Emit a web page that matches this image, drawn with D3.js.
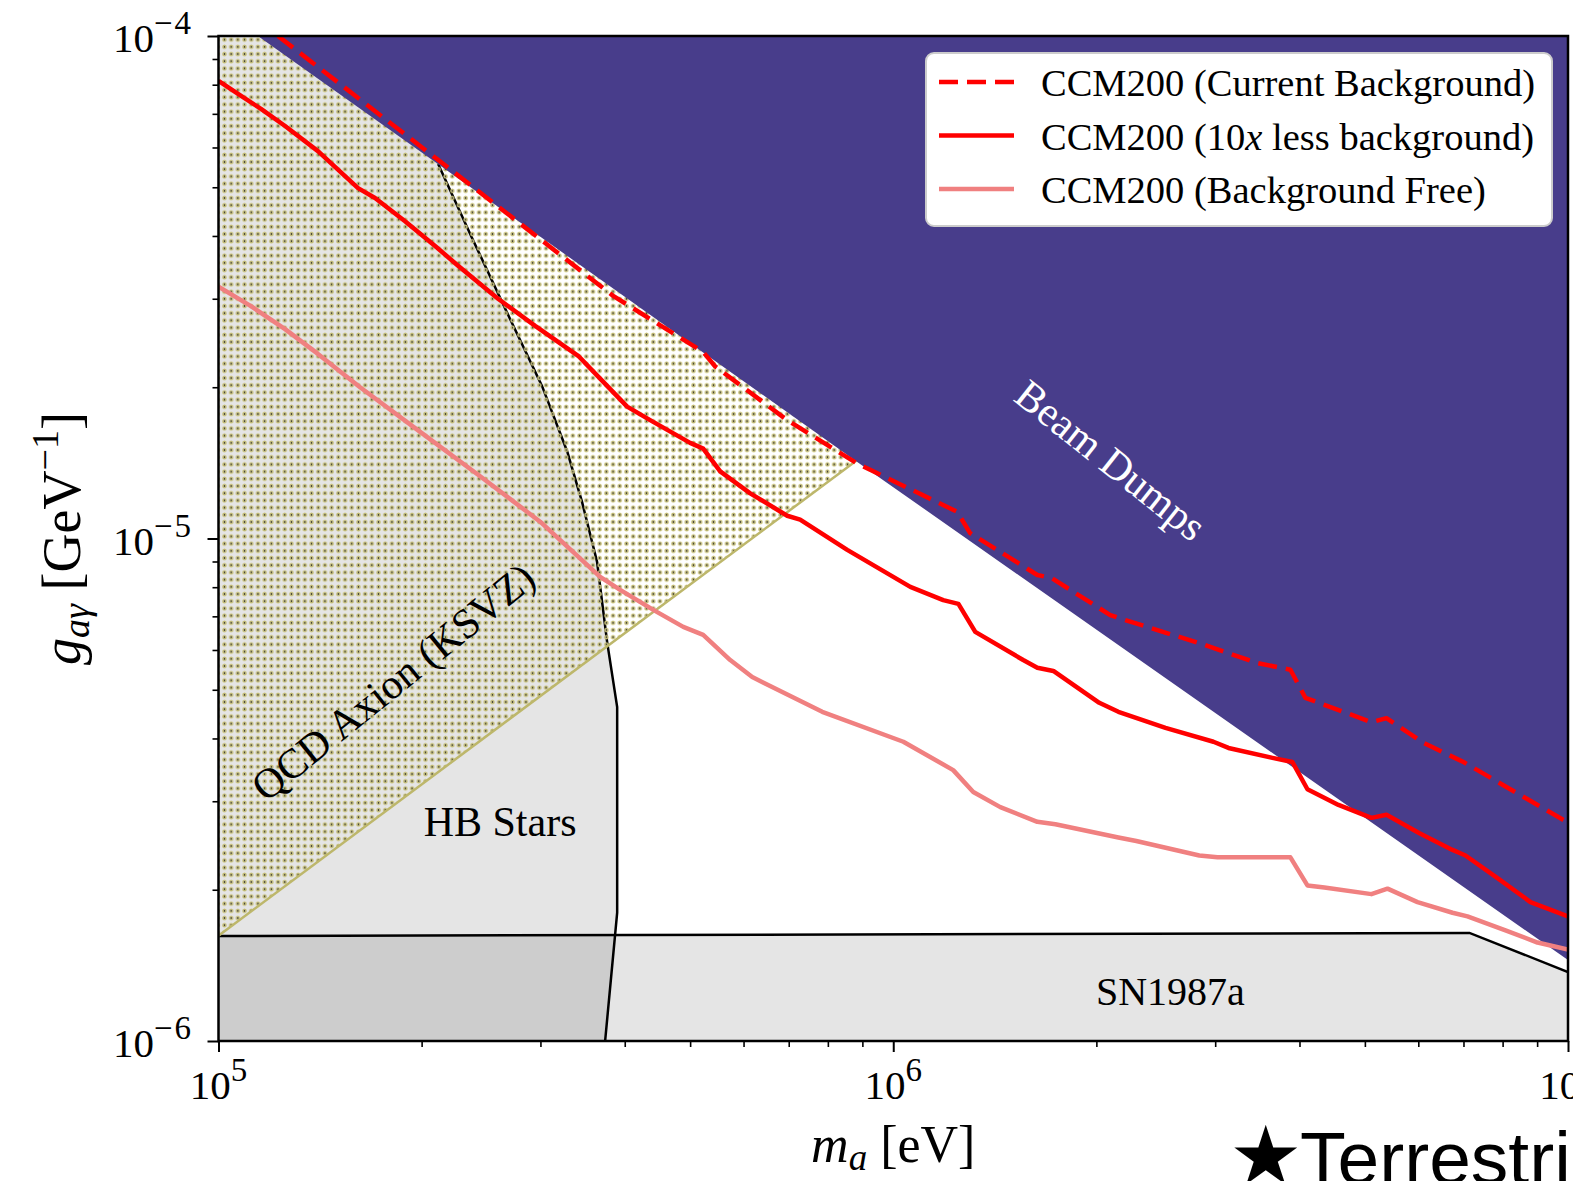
<!DOCTYPE html>
<html>
<head>
<meta charset="utf-8">
<script src="https://cdn.jsdelivr.net/npm/d3@7"></script>
<style>
body{margin:0;background:#fff;overflow:hidden}
svg{display:block}
</style>
</head>
<body>
<div id="chart"></div>
<script>
// ---- data: [m_a (eV), g_ag (GeV^-1)] ----
const currentBkg = [[1.225e5,1.0e-4],[2.115e5,5.67e-5],[3.845e5,3.04e-5],[5.228e5,2.35e-5],[5.447e5,2.20e-5],
  [6.964e5,1.72e-5],[8.844e5,1.41e-5],[1.244e6,1.13e-5],[1.300e6,1.025e-5],[1.635e6,8.46e-6],[1.715e6,8.35e-6],
  [2.097e6,7.04e-6],[2.208e6,6.88e-6],[2.842e6,6.19e-6],[3.465e6,5.65e-6],[3.878e6,5.48e-6],[4.081e6,4.82e-6],
  [5.113e6,4.31e-6],[5.382e6,4.39e-6],[6.108e6,3.92e-6],[7.000e6,3.59e-6],[1.0e7,2.72e-6]]
const lessBkg = [[1.0e5,8.14e-5],[1.069e5,7.67e-5],[1.156e5,7.16e-5],[1.255e5,6.62e-5],[1.404e5,5.90e-5],
  [1.610e5,4.98e-5],[1.706e5,4.76e-5],[1.890e5,4.28e-5],[2.094e5,3.82e-5],[2.265e5,3.49e-5],[2.596e5,3.00e-5],
  [2.946e5,2.65e-5],[3.412e5,2.31e-5],[3.678e5,2.08e-5],[4.033e5,1.83e-5],[4.362e5,1.72e-5],[5.0e5,1.55e-5],
  [5.228e5,1.51e-5],[5.540e5,1.36e-5],[6.138e5,1.23e-5],[6.964e5,1.11e-5],[7.278e5,1.09e-5],[8.547e5,9.49e-6],
  [1.060e6,8.01e-6],[1.186e6,7.54e-6],[1.249e6,7.41e-6],[1.323e6,6.52e-6],[1.558e6,5.73e-6],[1.635e6,5.53e-6],
  [1.727e6,5.45e-6],[2.020e6,4.71e-6],[2.156e6,4.52e-6],[2.532e6,4.20e-6],[2.982e6,3.94e-6],[3.139e6,3.83e-6],
  [3.647e6,3.66e-6],[3.905e6,3.59e-6],[4.110e6,3.17e-6],[4.569e6,2.95e-6],[5.113e6,2.78e-6],[5.382e6,2.82e-6],
  [6.024e6,2.59e-6],[6.743e6,2.40e-6],[7.048e6,2.34e-6],[7.862e6,2.11e-6],[8.798e6,1.89e-6],[1.0e7,1.77e-6]]
const bkgFree = [[1.0e5,3.17e-5],[1.117e5,2.90e-5],[1.255e5,2.61e-5],[1.404e5,2.33e-5],[1.621e5,2.00e-5],
  [1.990e5,1.63e-5],[2.442e5,1.33e-5],[2.997e5,1.08e-5],[3.678e5,8.39e-6],[3.938e5,7.90e-6],[4.409e5,7.21e-6],
  [4.884e5,6.67e-6],[5.228e5,6.43e-6],[5.733e5,5.73e-6],[6.180e5,5.30e-6],[7.848e5,4.52e-6],[1.035e6,3.94e-6],
  [1.227e6,3.46e-6],[1.314e6,3.13e-6],[1.441e6,2.92e-6],[1.635e6,2.73e-6],[1.739e6,2.70e-6],[2.156e6,2.54e-6],
  [2.292e6,2.50e-6],[2.842e6,2.34e-6],[3.023e6,2.32e-6],[3.878e6,2.32e-6],[4.110e6,2.04e-6],[4.355e6,2.02e-6],
  [5.113e6,1.96e-6],[5.401e6,2.01e-6],[5.984e6,1.89e-6],[6.743e6,1.80e-6],[7.096e6,1.77e-6],[8.079e6,1.66e-6],
  [9.012e6,1.57e-6],[1.0e7,1.52e-6]]
// limit regions
const beamDumpEdge = [[1.0e5,1.137e-4],[8.844e5,1.42e-5],[1.0e7,1.449e-6]]
const qcdLower = [[1.0e5,1.62e-6],[1.0e7,1.62e-4]]
const qcdUpper = [[1.0e5,1.62e-4],[1.0e7,1.62e-2]]
const hbEdge = [[2.116e5,5.56e-5],[2.368e5,4.00e-5],[2.669e5,2.84e-5],[3.017e5,2.01e-5],[3.287e5,1.49e-5],
  [3.459e5,1.18e-5],[3.640e5,8.98e-6],[3.767e5,6.22e-6],[3.898e5,4.62e-6],[3.898e5,1.80e-6],[3.741e5,1.0e-6]]
const snEdge = [[1.0e5,1.618e-6],[7.145e6,1.641e-6],[1.0e7,1.372e-6]]
// axes
const massTicks = [1e5,1e6,1e7]
const massExp = ["5","6","7"]
const coupTicks = [1e-6,1e-5,1e-4]
const coupExp = ["−6","−5","−4"]
const legendNames = ["CCM200 (Current Background)","CCM200 (10x less background)","CCM200 (Background Free)"]

const W = 1573, H = 1181
const pLeft = 218.5, pRight = 1568, pTop = 36, pBottom = 1041

let svg = d3.select("#chart").append("svg").attr("width",W).attr("height",H)
let x = d3.scaleLog().domain([1e5,1e7]).range([pLeft,pRight])
let y = d3.scaleLog().domain([1e-6,1e-4]).range([pBottom,pTop])
let line = d3.line().x(d=>x(d[0])).y(d=>y(d[1]))

let defs = svg.append("defs")
defs.append("clipPath").attr("id","plotclip").append("rect")
  .attr("x",pLeft).attr("y",pTop).attr("width",pRight-pLeft).attr("height",pBottom-pTop)
//點點的花紋
let pat = defs.append("pattern").attr("id","dots").attr("patternUnits","userSpaceOnUse")
  .attr("width",6.7).attr("height",7.2)
pat.append("circle").attr("cx",3.35).attr("cy",3.6).attr("r",2.25).attr("fill","#c4bd72")
pat.append("circle").attr("cx",3.35).attr("cy",3.6).attr("r",1.15).attr("fill","#b2ae8a")
pat.append("circle").attr("cx",3.35).attr("cy",3.6).attr("r",0.6).attr("fill","#000")

let plot = svg.append("g").attr("clip-path","url(#plotclip)")
const [x0,x1] = x.domain(), [y0,y1] = y.domain()

//HB Stars
let hbPoly = [[hbEdge[0][0],y1*3]].concat(hbEdge,[[hbEdge[hbEdge.length-1][0],y0/2],[x0/2,y0/2],[x0/2,y1*3]])
plot.append("path").attr("d",line(hbPoly)+"Z").attr("fill","black").attr("fill-opacity",0.1)
//SN1987a
let snPoly = [[x0/2,snEdge[0][1]]].concat(snEdge,[[x1*2,snEdge[snEdge.length-1][1]*0.6],[x1*2,y0/2],[x0/2,y0/2]])
plot.append("path").attr("d",line(snPoly)+"Z").attr("fill","black").attr("fill-opacity",0.1)
plot.append("path").attr("d",line(hbEdge)).attr("fill","none").attr("stroke","black").attr("stroke-width",2.5)
plot.append("path").attr("d",line(snEdge)).attr("fill","none").attr("stroke","black").attr("stroke-width",2.5)

//QCD axion band
let qcdPoly = qcdLower.concat(qcdUpper.slice().reverse())
plot.append("path").attr("d",line(qcdPoly)+"Z").attr("fill","url(#dots)")
plot.append("path").attr("d",line(qcdLower)).attr("fill","none").attr("stroke","#bdb76b").attr("stroke-width",2.5)

//Beam dumps
let bdPoly = beamDumpEdge.concat([[x1*2,beamDumpEdge[2][1]/2],[x1*2,y1*5],[x0/2,y1*5]])
plot.append("path").attr("d",line(bdPoly)+"Z").attr("fill","#483d8b")

//CCM200 curves
const styles = [
  {data:currentBkg, color:"red", dash:"19,9"},
  {data:lessBkg, color:"red", dash:null},
  {data:bkgFree, color:"#f08080", dash:null}
]
styles.forEach(s=>{
  plot.append("path").attr("d",line(s.data)).attr("fill","none")
    .attr("stroke",s.color).attr("stroke-width",4.5).attr("stroke-dasharray",s.dash)
    .attr("stroke-linejoin","round")
})

//region labels
const serif = "'Liberation Serif','Times New Roman',serif"
svg.append("text").attr("transform",`translate(${x(2.1e6)},${y(1.43e-5)}) rotate(38.5)`)
  .attr("text-anchor","middle").attr("dominant-baseline","central")
  .attr("font-family",serif).attr("font-size",42).attr("fill","white").text("Beam Dumps")
svg.append("text").attr("transform",`translate(${x(1.815e5)},${y(5.18e-6)}) rotate(-39)`)
  .attr("text-anchor","middle").attr("dominant-baseline","central")
  .attr("font-family",serif).attr("font-size",42).attr("fill","black").text("QCD Axion (KSVZ)")
svg.append("text").attr("x",x(2.614e5)).attr("y",y(2.73e-6)).attr("text-anchor","middle")
  .attr("dominant-baseline","central").attr("font-family",serif).attr("font-size",42).text("HB Stars")
svg.append("text").attr("x",x(2.575e6)).attr("y",y(1.257e-6)).attr("text-anchor","middle")
  .attr("dominant-baseline","central").attr("font-family",serif).attr("font-size",40).text("SN1987a")

//axes ticks
let minorX = x.ticks().filter(t=>!massTicks.some(m=>Math.abs(m-t)/m<1e-6))
let minorY = y.ticks().filter(t=>!coupTicks.some(m=>Math.abs(m-t)/m<1e-6))
function tickAxis(axis, pos, size, width){
  let g = svg.append("g").attr("transform",pos).call(axis.tickSize(size).tickFormat(""))
  g.select(".domain").remove()
  g.selectAll("line").attr("stroke","black").attr("stroke-width",width)
}
tickAxis(d3.axisBottom(x).tickValues(minorX), `translate(0,${pBottom})`, 6, 1.6)
tickAxis(d3.axisBottom(x).tickValues(massTicks), `translate(0,${pBottom})`, 11, 2)
tickAxis(d3.axisLeft(y).tickValues(minorY), `translate(${pLeft},0)`, 6, 1.6)
tickAxis(d3.axisLeft(y).tickValues(coupTicks), `translate(${pLeft},0)`, 11, 2)

massTicks.forEach((t,i)=>{
  let tx = svg.append("text").attr("x",x(t)).attr("y",1099).attr("text-anchor","middle")
    .attr("font-family",serif).attr("font-size",41)
  tx.append("tspan").text("10")
  tx.append("tspan").attr("dy",-18).attr("font-size",33).text(massExp[i])
})
coupTicks.forEach((t,i)=>{
  let ty = svg.append("text").attr("x",193).attr("y",y(t)+16).attr("text-anchor","end")
    .attr("font-family",serif).attr("font-size",41)
  ty.append("tspan").text("10")
  ty.append("tspan").attr("dy",-18).attr("font-size",33).attr("letter-spacing",2).text(coupExp[i])
})

//frame
svg.append("rect").attr("x",pLeft).attr("y",pTop).attr("width",pRight-pLeft).attr("height",pBottom-pTop)
  .attr("fill","none").attr("stroke","black").attr("stroke-width",2.5)

//axis titles
let xl = svg.append("text").attr("x",(pLeft+pRight)/2).attr("y",1162).attr("text-anchor","middle")
  .attr("font-family",serif).attr("font-size",52)
xl.append("tspan").attr("font-style","italic").text("m")
xl.append("tspan").attr("font-style","italic").attr("font-size",37).attr("dy",8).text("a")
xl.append("tspan").attr("dy",-8).text(" [eV]")

let yl = svg.append("text").attr("transform",`translate(80,${(pTop+pBottom)/2}) rotate(-90)`)
  .attr("text-anchor","middle").attr("font-family",serif).attr("font-size",54)
yl.append("tspan").attr("font-style","italic").text("g")
yl.append("tspan").attr("font-style","italic").attr("font-size",38).attr("dy",9).text("aγ")
yl.append("tspan").attr("dy",-9).text("  [GeV")
yl.append("tspan").attr("font-size",38).attr("dy",-22).text("−1")
yl.append("tspan").attr("dy",22).text("]")

//legend
let lg = svg.append("g")
lg.append("rect").attr("x",926).attr("y",53).attr("width",626).attr("height",173).attr("rx",8)
  .attr("fill","white").attr("stroke","#cccccc").attr("stroke-width",2)
styles.forEach((s,i)=>{
  let ly = 82 + i*53.5
  lg.append("line").attr("x1",939).attr("x2",1014).attr("y1",ly).attr("y2",ly)
    .attr("stroke",s.color).attr("stroke-width",4.5).attr("stroke-dasharray",s.dash)
  let t = lg.append("text").attr("x",1041).attr("y",ly+14).attr("font-family",serif).attr("font-size",38.5)
  if(i==1){
    t.append("tspan").text("CCM200 (10")
    t.append("tspan").attr("font-style","italic").text("x")
    t.append("tspan").text(" less background)")
  } else t.text(legendNames[i])
})

//bottom right caption, cut by the edge
let cap = svg.append("text").attr("x",1229).attr("y",1184).attr("font-family","'Liberation Sans',Arial,sans-serif")
  .attr("font-size",75).attr("fill","black")
cap.append("tspan").attr("font-family","'DejaVu Sans',sans-serif").attr("font-size",82).text("★")
cap.append("tspan").attr("x",1300).text("Terrestrial")
</script>
</body>
</html>
